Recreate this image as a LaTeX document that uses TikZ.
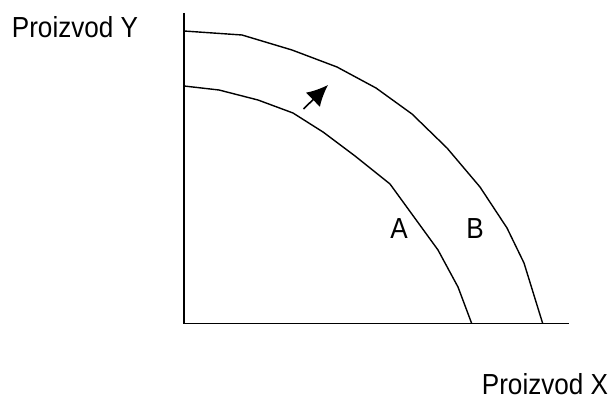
\documentclass[tikz,border=0pt]{standalone}
\usepackage{fontspec}
\setmainfont{Liberation Sans}
\newfontfamily\narrowfont[FakeStretch=0.9]{Liberation Sans}
\usetikzlibrary{arrows.meta}
\begin{document}
\begin{tikzpicture}[x=1pt,y=-1pt,
  axis/.style={line width=1.7pt},
  curve/.style={line width=1.4pt, line join=round},
  lbl/.style={font=\narrowfont\fontsize{29}{31}\selectfont, inner sep=0pt}]
\useasboundingbox (0,0) rectangle (614,398);
\coordinate (ytop) at (184,13);
\coordinate (origin) at (184,323.5);
\coordinate (xend) at (569,323.5);
\draw[axis] (ytop) -- (origin) -- (xend);
% curve B
\draw[curve] (184,31) -- (242,35) -- (292,50) -- (337,67) -- (376,88) -- (412,114)
  -- (447,148) -- (480,187) -- (507,228) -- (524,263) -- (542.7,323.5);
% curve A
\draw[curve] (184,86) -- (219,90) -- (258,100) -- (293,113) -- (323,132) -- (355,156)
  -- (390,184) -- (414,217) -- (438,250) -- (458,287) -- (471.7,323.5);
\coordinate (atail) at (303.5,109);
\coordinate (ahead) at (328,85);
\draw[line width=1.6pt, -{Latex[length=21pt,width=20pt]}] (atail) -- (ahead);
\node[lbl] (ly) at (75,27.5) {Proizvod Y};
\node[lbl] (lx) at (545,384) {Proizvod X};
\node[lbl] (la) at (399,229) {A};
\node[lbl] (lb) at (475,229) {B};
\end{tikzpicture}
\end{document}
